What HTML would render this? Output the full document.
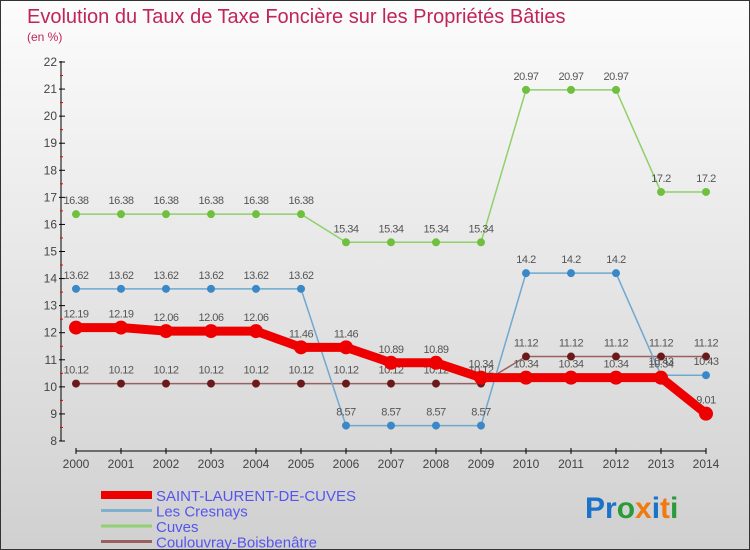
<!DOCTYPE html>
<html><head><meta charset="utf-8"><style>
body{margin:0}
#c{width:750px;height:550px;position:relative;overflow:hidden;box-sizing:border-box;border:1px solid #333;background:linear-gradient(#fcfcfc,#d0d0d0);font-family:"Liberation Sans",sans-serif}
svg text{font-family:"Liberation Sans",sans-serif}
</style></head><body>
<div id="c">
<svg id="s" width="750" height="550">
<text x="26" y="22" font-size="20" fill="#c0245a">Evolution du Taux de Taxe Foncière sur les Propriétés Bâties</text>
<text x="26" y="40" font-size="12" fill="#c0245a">(en %)</text>
<text x="584" y="517" font-size="30" font-weight="bold"><tspan fill="#1a73c8">Pr</tspan><tspan fill="#2a9a3a">o</tspan><tspan fill="#f07a10">x</tspan><tspan fill="#1a73c8">i</tspan><tspan fill="#f07a10">t</tspan><tspan fill="#2a9a3a">i</tspan></text>
</svg>
</div>
<script>
const years=[2000,2001,2002,2003,2004,2005,2006,2007,2008,2009,2010,2011,2012,2013,2014];
const yTicks=[8,9,10,11,12,13,14,15,16,17,18,19,20,21,22];
const saintLaurent=[12.19,12.19,12.06,12.06,12.06,11.46,11.46,10.89,10.89,10.34,10.34,10.34,10.34,10.34,9.01];
const cresnays=[13.62,13.62,13.62,13.62,13.62,13.62,8.57,8.57,8.57,8.57,14.2,14.2,14.2,10.43,10.43];
const cuves=[16.38,16.38,16.38,16.38,16.38,16.38,15.34,15.34,15.34,15.34,20.97,20.97,20.97,17.2,17.2];
const coulouvray=[10.12,10.12,10.12,10.12,10.12,10.12,10.12,10.12,10.12,10.12,11.12,11.12,11.12,11.12,11.12];
const seriesNames=["SAINT-LAURENT-DE-CUVES","Les Cresnays","Cuves","Coulouvray-Boisbenâtre"];
const NS="http://www.w3.org/2000/svg";
const s=document.getElementById('s');
const X=i=>75+i*45;
const Y=v=>440-(v-8)*(379/14);
function el(t,a,p){const e=document.createElementNS(NS,t);for(const k in a)e.setAttribute(k,a[k]);(p||s).appendChild(e);return e;}
// axes
let ax=el('line',{x1:60,y1:60,x2:60,y2:440,stroke:'#000','stroke-width':1});


let xx=el('line',{x1:75,y1:450,x2:705,y2:450,stroke:'#000','stroke-width':1});


yTicks.forEach(v=>{
  el('line',{x1:58,y1:Y(v),x2:64,y2:Y(v),stroke:'#000'});
  if(v<22)el('line',{x1:59,y1:Y(v+0.5),x2:62,y2:Y(v+0.5),stroke:'#e00'});
  const t=el('text',{x:56,y:Y(v)+4,'font-size':12,fill:'#444','text-anchor':'end'});
  t.textContent=v;
  
  
});
years.forEach((y,i)=>{
  el('line',{x1:X(i),y1:447,x2:X(i),y2:453,stroke:'#000'});
  const t=el('text',{x:X(i),y:467,'font-size':12,fill:'#444','text-anchor':'middle'});
  t.textContent=y;
  
  
});
function series(data,color,dot,w,r,name){
  const g=el('g',{});
  
  
  el('polyline',{points:data.map((v,i)=>X(i)+','+Y(v)).join(' '),fill:'none',stroke:color,'stroke-width':w},g);
  data.forEach((v,i)=>{
    const c=el('circle',{cx:X(i),cy:Y(v),r:r,fill:dot},g);
    
    
    const t=el('text',{x:X(i),y:Y(v)-10,'font-size':11,fill:'#555','text-anchor':'middle','letter-spacing':'-0.5'},g);
    t.textContent=v;
  });
}
series(coulouvray,'#9a6060','#6a1a1a',1.5,4,'series-coulouvray');
series(cuves,'#8fd06a','#70c040',1.5,4,'series-cuves');
series(cresnays,'#6fa8d0','#3a88c8',1.5,4,'series-cresnays');
series(saintLaurent,'#ee0000','#ee0000',9,7,'series-saint-laurent');
// legend
const lc=[['#ee0000',8],['#7fb0d0',3],['#90d070',3],['#9a6060',3]];
seriesNames.forEach((n,i)=>{
  const y=494+i*15.5;
  const g=el('g',{});
  
  
  el('line',{x1:100,y1:y,x2:151,y2:y,stroke:lc[i][0],'stroke-width':lc[i][1]},g);
  const t=el('text',{x:155,y:y+6,'font-size':15,fill:'#5555ee'},g);
  t.textContent=n;
});
</script>
</body></html>
